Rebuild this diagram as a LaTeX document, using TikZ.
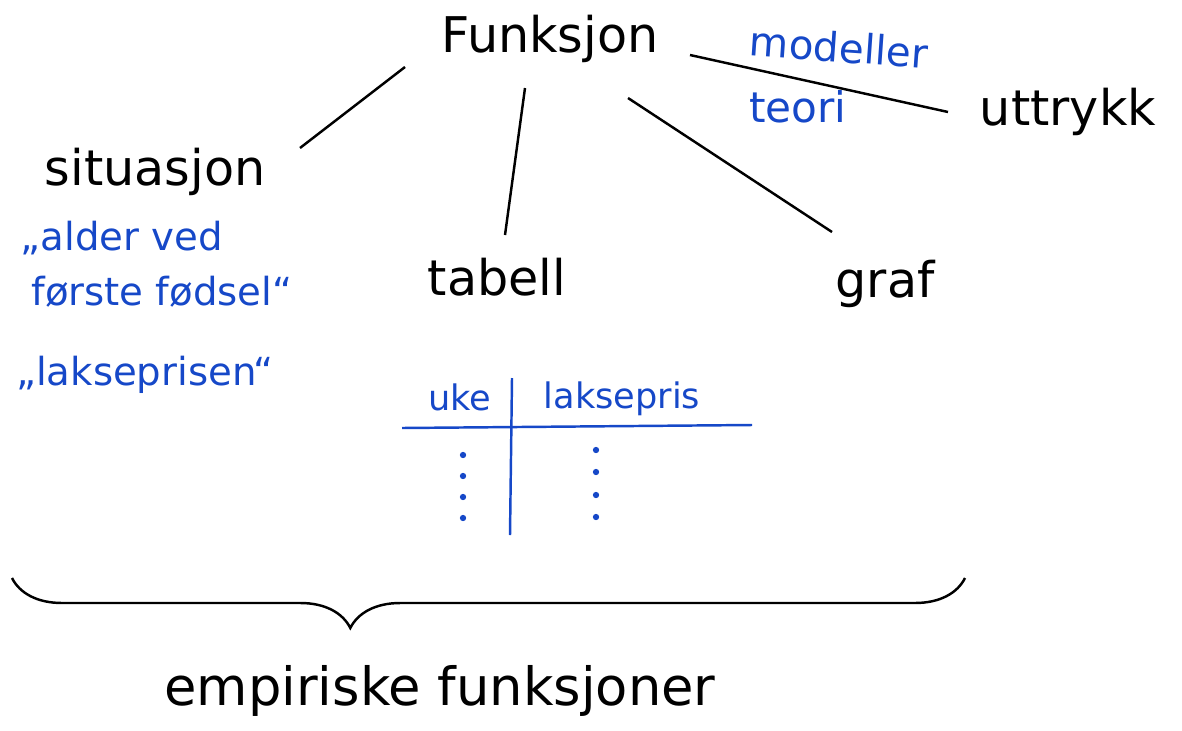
\documentclass[tikz,border=0pt]{standalone}
\usepackage{fontspec}
\setmainfont{DejaVu Sans}
\usetikzlibrary{calc,decorations.pathreplacing}
\definecolor{penblue}{RGB}{22,72,200}
\begin{document}
\begin{tikzpicture}
  [x=0.02cm,y=-0.02cm,
   line width=1.4pt,
   word/.style={anchor=base,inner sep=0pt,font=\fontsize{28}{34}\selectfont},
   note/.style={anchor=base,inner sep=0pt,text=penblue,font=\fontsize{22}{26}\selectfont},
   cell/.style={note,font=\fontsize{20}{24}\selectfont}
  ]
  \useasboundingbox (0,0) rectangle (1182,730);

  \foreach \x/\y/\n/\t in {550/52/fun/Funksjon,155/185/sit/situasjon,497/295/tab/tabell,885/297/graf/graf,1068/125/utt/uttrykk} {
     \node[word] (\n) at (\x,\y) {\t};
  }

  \foreach \n/\ax/\ay/\bx/\by in {sit/-145/15/145/-37,tab/-25/36/8/-60,graf/78/46/-53/-65,utt/140/3/-120/-13} {
      \draw ($(fun.base)+(\ax,\ay)$) -- ($(\n.base)+(\bx,\by)$);
  }

  \node[note,rotate=-4,font=\fontsize{23}{27}\selectfont] (mod) at (838,62) {modeller};
  \node[note,font=\fontsize{24}{28}\selectfont] (teo) at (798,122) {teori};

  \node[note] (ex1) at (122,250) {„alder ved};
  \node[note] (ex2) at (162,305) {første fødsel“};
  \node[note] (ex3) at (145,385) {„lakseprisen“};

  % tabell
  \node[cell] (uke) at (460,410) {uke};
  \node[cell] (pris) at (622,408) {laksepris};
  \draw[penblue] (402,428) -- (752,425);
  \draw[penblue] (512,378) -- (510,535);
  \foreach \y in {455,476,497,518} {
     \fill[penblue] (463,\y) circle (1.8pt);
  }
  \foreach \y in {450,472,495,517} {
     \fill[penblue] (596,\y) circle (1.8pt);
  }

  \draw[decorate,decoration={brace,mirror,amplitude=1cm,aspect=0.355}] (12,578) -- (965,578);
  \node[word,font=\fontsize{30}{36}\selectfont] (emp) at (440,705) {empiriske funksjoner};

\end{tikzpicture}
\end{document}
